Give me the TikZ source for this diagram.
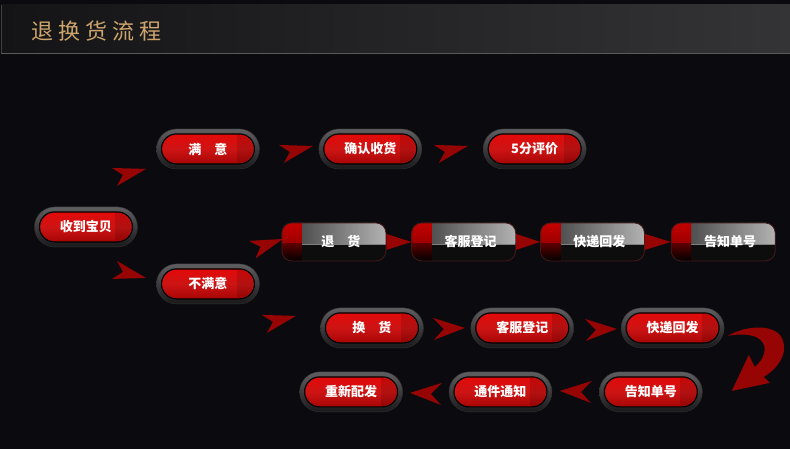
\documentclass[tikz,border=0pt]{standalone}
\usepackage{fontspec}
\newfontfamily\cjk{Noto Sans CJK SC}
\usetikzlibrary{positioning}
\definecolor{bgBlack}{RGB}{11,11,15}
\definecolor{dartRed}{RGB}{150,4,4}
\definecolor{btnRedTop}{RGB}{235,6,6}
\definecolor{btnRedMid}{RGB}{205,20,20}
\definecolor{btnRedBot}{RGB}{155,0,0}
\definecolor{ringLight}{RGB}{95,95,98}
\definecolor{ringDark}{RGB}{25,25,27}
\definecolor{titleGold}{RGB}{205,165,108}
\definecolor{stripRed}{RGB}{195,0,0}
\definecolor{stripDark}{RGB}{90,0,0}
\tikzset{
    redBtn/.style={
        minimum width=103pt, minimum height=40pt, rounded corners=20pt,
        top color=ringLight, bottom color=ringDark, draw=black!80,
        text=white, font=\cjk\bfseries\fontsize{13}{15}\selectfont,
        path picture={
            \draw[black, line width=1.2pt, top color=btnRedTop, bottom color=btnRedBot, middle color=btnRedMid, rounded corners=15pt]
                ([shift={(5pt,-5pt)}]path picture bounding box.north west) rectangle ([shift={(-5pt,5pt)}]path picture bounding box.south east);
            \begin{scope}
                \clip[rounded corners=15pt] ([shift={(6pt,-6pt)}]path picture bounding box.north west) rectangle ([shift={(-6pt,6pt)}]path picture bounding box.south east);
                \fill[black, opacity=0.13, sharp corners] ([xshift=-22pt]path picture bounding box.north east) rectangle (path picture bounding box.south east);
            \end{scope}
        }
    },
    darkBtn/.style={
        minimum width=104pt, minimum height=38pt, rounded corners=10pt,
        fill=black!95, draw={rgb,255:red,70;green,25;blue,25}, line width=0.8pt,
        text=white, font=\cjk\bfseries\fontsize{13}{15}\selectfont,
        execute at begin node=\hspace{14pt},
        path picture={
            \shade[sharp corners, left color=black!78, right color=black!30]
                (path picture bounding box.north west) rectangle ([yshift=-2pt]path picture bounding box.east);
            \draw[sharp corners, black!50] ([yshift=-2pt]path picture bounding box.west) -- ([yshift=-2pt]path picture bounding box.east);
            \shade[sharp corners, top color=stripRed, bottom color=stripRed!80!black]
                (path picture bounding box.north west) rectangle ([xshift=20pt,yshift=-2pt]path picture bounding box.west);
            \shade[sharp corners, top color=stripDark, bottom color=black]
                ([yshift=-2pt]path picture bounding box.west) rectangle ([xshift=20pt]path picture bounding box.south west);
        }
    },
    dart/.pic={
        \fill[dartRed] (0,0) -- (-34,-1) -- (-23,6) -- (-29,17) -- cycle;
    },
    dartSym/.pic={
        \fill[dartRed] (0,0) -- (-32,-10) -- (-21,1) -- (-31,12) -- cycle;
    }
}
\begin{document}
\begin{tikzpicture}[x=1pt, y=-1pt]
    \fill[bgBlack] (0,0) rectangle (790,449);
    \shade[left color={rgb,255:red,20;green,20;blue,22}, right color={rgb,255:red,52;green,52;blue,55}] (1,5) rectangle (790,53);
    \draw[black!65] (1,53) -- (790,53);
    \draw[black!75] (1,5) -- (1,53);
    \node[anchor=west, text=titleGold, font=\cjk\fontsize{22}{24}\selectfont] (title) at (28,31) {退\hspace{5pt}换\hspace{5pt}货\hspace{5pt}流\hspace{5pt}程};

    \node[redBtn] (recv) at (86,227) {收到宝贝};
    \node[redBtn] (happy) at (208,149) {满\hspace{1em}意};
    \node[redBtn, right=59pt of happy] (confirm) {确认收货};
    \node[redBtn, right=61pt of confirm] (rate) {5分评价};
    \node[redBtn] (unhappy) at (208,284) {不满意};

    \node[darkBtn] (ret) at (334,242) {退\hspace{1em}货};
    \node[darkBtn, right=25pt of ret] (retReg) {客服登记};
    \node[darkBtn, right=24pt of retReg] (retShip) {快递回发};
    \node[darkBtn, right=26pt of retShip] (retNote) {告知单号};

    \node[redBtn] (exch) at (372,328) {换\hspace{1em}货};
    \node[redBtn, right=47pt of exch] (exReg) {客服登记};
    \node[redBtn, right=47pt of exReg] (exShip) {快递回发};
    \node[redBtn] (exNote) at (651,392) {告知单号};
    \node[redBtn, left=47pt of exNote] (exNotify) {通件通知};
    \node[redBtn, left=46pt of exNotify] (resend) {重新配发};

    \pic at (146,169) {dart};
    \pic[yscale=-1] at (146,278) {dart};
    \pic at (313,146) {dart};
    \pic at (468,146) {dart};
    \pic[rotate=5] at (283,239) {dart};
    \pic at (296,316) {dart};
    \fill[dartRed] ([yshift=8pt]ret.east) -- (retReg.west) -- ([yshift=-8pt]ret.east) -- cycle;
    \fill[dartRed] ([yshift=8pt]retReg.east) -- (retShip.west) -- ([yshift=-8pt]retReg.east) -- cycle;
    \fill[dartRed] ([yshift=8pt]retShip.east) -- (retNote.west) -- ([yshift=-8pt]retShip.east) -- cycle;
    \pic at (465,328) {dartSym};
    \pic at (617,329) {dartSym};
    \pic[xscale=-1] at (560,391) {dartSym};
    \pic[xscale=-1] at (410,393) {dartSym};
    \fill[dartRed] (728,336) .. controls (745,326) and (770,324) .. (780,335)
        .. controls (790,348) and (782,366) .. (764,377) -- (770,383) -- (732,391) -- (749,355) -- (755,367)
        .. controls (768,356) and (768,342) .. (756,337) .. controls (748,334) and (738,334) .. (728,336) -- cycle;
\end{tikzpicture}
\end{document}
